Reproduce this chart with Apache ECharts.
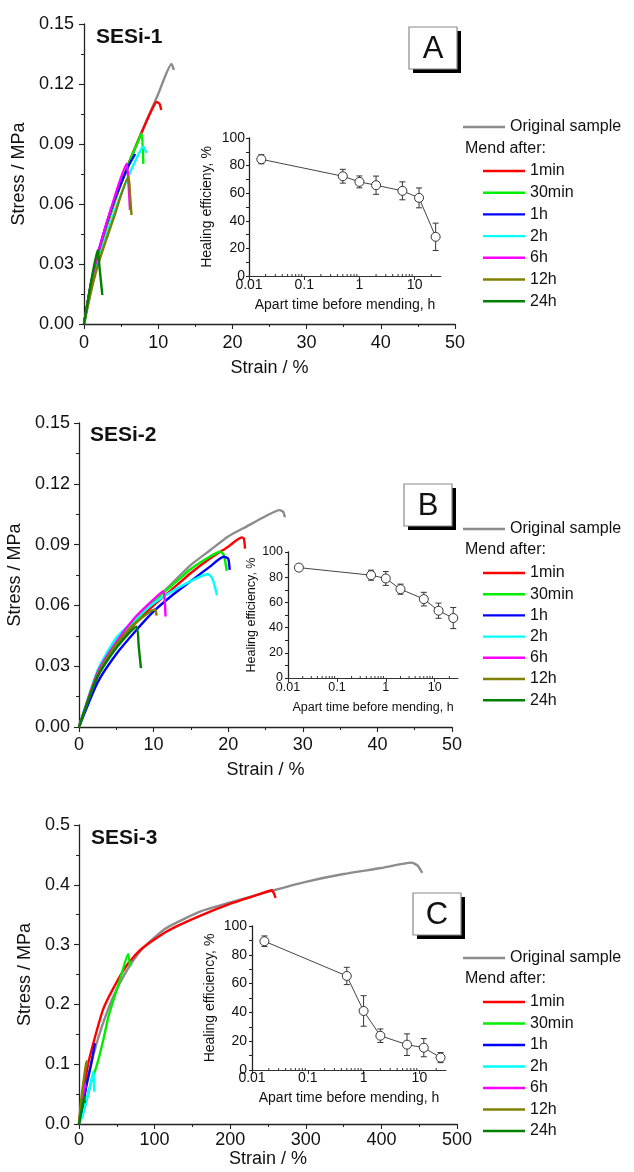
<!DOCTYPE html>
<html>
<head>
<meta charset="utf-8">
<script src="https://cdn.jsdelivr.net/npm/echarts@6/dist/echarts.min.js"></script>
<style>
  html, body { margin: 0; padding: 0; background: #fff; }
  #main { width: 634px; height: 1172px; }
</style>
</head>
<body>
<div id="main"></div>
<script>
// ---- panel A : SESi-1  [strain %, stress MPa]
const A_orig  = [[0,0],[1,0.021],[2,0.036],[4,0.060],[6,0.080],[8,0.098],[10,0.115],[11.8,0.130],[12.1,0.127]];
const A_1min  = [[0,0],[1,0.021],[2,0.036],[4,0.060],[6,0.080],[7.8,0.096],[9,0.106],[9.8,0.111],[10.2,0.110],[10.4,0.107]];
const A_30min = [[0,0],[1,0.021],[2,0.036],[4,0.060],[6,0.080],[7.6,0.094],[7.8,0.0953],[8.0,0.080]];
const A_1h    = [[0,0],[1,0.021],[2,0.037],[4,0.061],[6,0.079],[6.9,0.085]];
const A_2h    = [[0,0],[1,0.018],[2,0.032],[4,0.055],[6,0.074],[7.5,0.086],[8.0,0.0887],[8.4,0.0855]];
const A_6h    = [[0,0],[1,0.021],[2,0.037],[4,0.062],[5.75,0.080],[6.0,0.070],[6.2,0.057]];
const A_12h   = [[0,0],[1,0.017],[2,0.031],[4,0.053],[6.0,0.0737],[6.2,0.065],[6.4,0.0545]];
const A_24h   = [[0,0],[1,0.022],[1.85,0.037],[2.1,0.028],[2.47,0.0145]];

// ---- panel B : SESi-2
const B_orig  = [[0,0],[1,0.011],[2.5,0.025],[5,0.040],[7.5,0.052],[10,0.062],[12.5,0.071],[15,0.080],[17.5,0.087],[20,0.094],[22.5,0.099],[25,0.104],[26.9,0.107],[27.4,0.106],[27.6,0.1035]];
const B_1min  = [[0,0],[2.5,0.025],[5,0.040],[7.5,0.051],[10,0.060],[12.5,0.068],[15,0.076],[17.5,0.083],[20,0.089],[21.8,0.0935],[22.1,0.093],[22.25,0.088]];
const B_30min = [[0,0],[2.5,0.026],[5,0.041],[7.5,0.052],[10,0.062],[12.5,0.070],[15,0.078],[17.5,0.084],[18.9,0.0865],[19.4,0.085],[19.8,0.077]];
const B_1h    = [[0,0],[2.5,0.022],[5,0.036],[7.5,0.047],[10,0.057],[12.5,0.065],[15,0.072],[17.5,0.079],[19.4,0.084],[20.0,0.083],[20.2,0.0775]];
const B_2h    = [[0,0],[2.5,0.028],[5,0.044],[7.5,0.053],[10,0.061],[12.5,0.067],[15,0.072],[17.3,0.0755],[17.9,0.073],[18.5,0.065]];
const B_6h    = [[0,0],[2.5,0.027],[5,0.042],[7.5,0.054],[10,0.063],[11.3,0.067],[11.5,0.062],[11.6,0.0545]];
const B_12h   = [[0,0],[2.5,0.026],[5,0.041],[7.5,0.051],[10.2,0.058],[10.4,0.055]];
const B_24h   = [[0,0],[2.5,0.025],[5,0.039],[7.7,0.0495],[8.0,0.040],[8.3,0.029]];

// ---- panel C : SESi-3
const C_orig  = [[0,0],[10,0.068],[20,0.120],[30,0.162],[45,0.212],[63,0.256],[81,0.289],[100,0.312],[116,0.328],[160,0.355],[204,0.372],[255,0.390],[300,0.405],[350,0.418],[400,0.428],[440,0.437],[448,0.432],[454,0.420]];
const C_1min  = [[0,0],[5,0.045],[12,0.100],[20,0.140],[32,0.192],[45,0.226],[63,0.265],[81,0.291],[116,0.322],[160,0.348],[204,0.370],[240,0.385],[255,0.391],[258,0.385],[260,0.378]];
const C_30min = [[0,0],[8,0.030],[15,0.065],[24,0.100],[32,0.140],[39,0.180],[45,0.205],[55,0.245],[65,0.284],[67.5,0.263]];
const C_1h    = [[0,0],[5,0.030],[10,0.065],[16,0.100],[21,0.135]];
const C_2h    = [[0,0],[5,0.015],[10,0.040],[15,0.065],[18.9,0.0875],[19.5,0.075],[20.3,0.054]];
const C_6h    = [[0,0],[3,0.028],[6,0.052],[8,0.068],[8.5,0.060]];
const C_12h   = [[0,0],[2,0.030],[5,0.062],[8,0.090],[10,0.105],[10.5,0.098]];
const C_24h   = [[0,0],[3,0.020],[6,0.040],[7,0.045],[7.5,0.035]];

// ---- insets : healing efficiency vs apart time
const apartTime = [0.0167, 0.5, 1, 2, 6, 12, 24];
const effA = [84.6, 72.3, 68.2, 65.8, 61.7, 56.6, 28.4];
const errA = [3.3, 5, 4.3, 6.6, 6.5, 7.2, 9.9];
const effB = [87.6, 81.6, 79, 70.5, 62.6, 53.4, 47.6];
const errB = [2, 4, 5.5, 4, 5.4, 6, 8.4];
const effC = [89.4, 65.3, 41, 23.8, 17.6, 15.5, 8.6];
const errC = [3.7, 6, 10.6, 4.7, 7.5, 6.3, 3.5];
const logMinorTicks = [0.02,0.03,0.04,0.05,0.06,0.07,0.08,0.09,0.2,0.3,0.4,0.5,0.6,0.7,0.8,0.9,2,3,4,5,6,7,8,9,20];

const curveNames  = ['Original sample','1min','30min','1h','2h','6h','12h','24h'];
const curveColors = ['#8c8c8c','#ff0000','#00ee00','#0000ff','#00ffff','#ff00ff','#808000','#008000'];

const FONT = 'Liberation Sans, Arial, sans-serif';

var chart = echarts.init(document.getElementById('main'), null, { renderer: 'canvas' });

function grid(l, t, w, h) {
  return { left: l, top: t, width: w, height: h, containLabel: false, outerBoundsMode: 'none' };
}

function valueAxis(gi, min, max, interval, opts) {
  return {
    type: 'value', gridIndex: gi, min: min, max: max, interval: interval,
    name: opts.name, nameLocation: 'middle', nameGap: opts.nameGap,
    nameTextStyle: { fontSize: opts.nameSize, color: '#111', fontFamily: FONT },
    axisLine: { show: true, onZero: false, lineStyle: { color: '#222', width: 1.3 } },
    axisTick: { show: true, length: opts.tick || 5, lineStyle: { color: '#222', width: 1.1 } },
    minorTick: { show: true, splitNumber: 2, length: 3, lineStyle: { color: '#222', width: 1 } },
    splitLine: { show: false },
    axisLabel: {
      fontSize: opts.labelSize, color: '#111', fontFamily: FONT, margin: opts.margin,
      formatter: opts.fmt
    }
  };
}

function logAxis(gi, opts) {
  return {
    type: 'log', logBase: 10, gridIndex: gi, min: 0.01, max: 30,
    name: 'Apart time before mending, h', nameLocation: 'middle', nameGap: opts.nameGap,
    nameTextStyle: { fontSize: opts.nameSize, color: '#111', fontFamily: FONT },
    axisLine: { show: true, onZero: false, lineStyle: { color: '#333', width: 1 } },
    axisTick: { show: true, length: 4, lineStyle: { color: '#333', width: 1 } },
    splitLine: { show: false },
    axisLabel: {
      fontSize: opts.labelSize, color: '#111', fontFamily: FONT, margin: opts.margin,
      showMaxLabel: false,
      formatter: function (v) { return v > 20 ? '' : String(+(+v).toPrecision(2)); }
    }
  };
}

var xAxes = [
  valueAxis(0, 0, 50, 10,  { name: 'Strain / %', nameGap: 35, nameSize: 18, labelSize: 18, margin: 10 }),
  valueAxis(1, 0, 50, 10,  { name: 'Strain / %', nameGap: 34, nameSize: 18, labelSize: 18, margin: 9 }),
  valueAxis(2, 0, 500, 100,{ name: 'Strain / %', nameGap: 24, nameSize: 18, labelSize: 18, margin: 7 }),
  logAxis(3, { nameGap: 22, nameSize: 14, labelSize: 14, margin: 2 }),
  logAxis(4, { nameGap: 23, nameSize: 12.5, labelSize: 12.5, margin: 3 }),
  logAxis(5, { nameGap: 21, nameSize: 14, labelSize: 14, margin: 1 })
];

var fmt2 = function (v) { return v.toFixed(2); };
var fmt1 = function (v) { return v.toFixed(1); };
var fmt0 = function (v) { return String(v); };

var yAxes = [
  valueAxis(0, 0, 0.15, 0.03, { name: 'Stress / MPa', nameGap: 49, nameSize: 18, labelSize: 18, margin: 10, fmt: fmt2 }),
  valueAxis(1, 0, 0.15, 0.03, { name: 'Stress / MPa', nameGap: 53, nameSize: 18, labelSize: 18, margin: 9, fmt: fmt2 }),
  valueAxis(2, 0, 0.5, 0.1,   { name: 'Stress / MPa', nameGap: 40, nameSize: 18, labelSize: 18, margin: 9, fmt: fmt1 }),
  valueAxis(3, 0, 100, 20, { name: 'Healing efficieny, %', nameGap: 35, nameSize: 14, labelSize: 14, margin: 4, tick: 3, fmt: fmt0 }),
  valueAxis(4, 0, 100, 20, { name: 'Healing efficiency, %', nameGap: 29, nameSize: 12.5, labelSize: 12.5, margin: 5, tick: 3, fmt: fmt0 }),
  valueAxis(5, 0, 100, 20, { name: 'Healing efficiency, %', nameGap: 35, nameSize: 14, labelSize: 14, margin: 5, tick: 3, fmt: fmt0 })
];

var series = [];

// 应力-应变曲线
function addCurves(gi, list) {
  list.forEach(function (d, i) {
    series.push({
      type: 'line', name: curveNames[i], xAxisIndex: gi, yAxisIndex: gi,
      data: d, symbol: 'none', showSymbol: false, smooth: 0.2,
      lineStyle: { color: curveColors[i], width: 2.4 },
      itemStyle: { color: curveColors[i] },
      z: 2 + i, silent: true, animation: false
    });
  });
}
addCurves(0, [A_orig, A_1min, A_30min, A_1h, A_2h, A_6h, A_12h, A_24h]);
addCurves(1, [B_orig, B_1min, B_30min, B_1h, B_2h, B_6h, B_12h, B_24h]);
addCurves(2, [C_orig, C_1min, C_30min, C_1h, C_2h, C_6h, C_12h, C_24h]);

// inset: error bars + open circles
function addInset(gi, eff, err) {
  series.push({
    type: 'custom', xAxisIndex: gi, yAxisIndex: gi, silent: true, animation: false, z: 3,
    data: apartTime.map(function (t, i) { return [t, eff[i] - err[i], eff[i] + err[i]]; }),
    renderItem: function (params, api) {
      var lo = api.coord([api.value(0), api.value(1)]);
      var hi = api.coord([api.value(0), api.value(2)]);
      var st = { stroke: '#333', lineWidth: 1 };
      return { type: 'group', children: [
        { type: 'line', shape: { x1: lo[0], y1: lo[1], x2: hi[0], y2: hi[1] }, style: st },
        { type: 'line', shape: { x1: lo[0] - 3, y1: lo[1], x2: lo[0] + 3, y2: lo[1] }, style: st },
        { type: 'line', shape: { x1: hi[0] - 3, y1: hi[1], x2: hi[0] + 3, y2: hi[1] }, style: st }
      ] };
    }
  });
  series.push({
    type: 'line', xAxisIndex: gi, yAxisIndex: gi, silent: true, animation: false, z: 4,
    data: apartTime.map(function (t, i) { return [t, eff[i]]; }),
    symbol: 'circle', symbolSize: 9, showSymbol: true,
    lineStyle: { color: '#444', width: 1 },
    itemStyle: { color: '#fff', borderColor: '#333', borderWidth: 1 }
  });
  // log minor ticks
  series.push({
    type: 'custom', xAxisIndex: gi, yAxisIndex: gi, silent: true, animation: false, z: 3,
    data: logMinorTicks.map(function (v) { return [v, 0]; }),
    renderItem: function (params, api) {
      var p = api.coord([api.value(0), 0]);
      return { type: 'line', shape: { x1: p[0], y1: p[1], x2: p[0], y2: p[1] - 2 }, style: { stroke: '#333', lineWidth: 1 } };
    }
  });
}
addInset(3, effA, errA);
addInset(4, effB, errB);
addInset(5, effC, errC);

function legends(top1, top2, gap) {
  var common = {
    orient: 'vertical', itemWidth: 42, itemHeight: 14, padding: 0, selectedMode: false,
    icon: 'path://M0,0 L42,0 L42,2.4 L0,2.4 Z',
    textStyle: { fontSize: 16, color: '#111', fontFamily: FONT }
  };
  return [
    Object.assign({}, common, { data: ['Original sample'], left: 463, top: top1 }),
    Object.assign({}, common, { data: curveNames.slice(1), left: 483, top: top2, itemGap: gap })
  ];
}

function box(letter, x, y) {
  return { type: 'group', x: x, y: y, children: [
    { type: 'rect', shape: { x: 4, y: 4, width: 48, height: 42 }, style: { fill: '#000' } },
    { type: 'rect', shape: { x: 0, y: 0, width: 48, height: 42 }, style: { fill: '#fff', stroke: '#8a8a8a', lineWidth: 1.2 } },
    { type: 'text', style: { text: letter, x: 24, y: 22, align: 'center', verticalAlign: 'middle', font: '31px ' + FONT, fill: '#111' } }
  ] };
}

function label(text, x, y, font) {
  return { type: 'text', style: { text: text, x: x, y: y, verticalAlign: 'middle', font: font, fill: '#111' } };
}

var option = {
  backgroundColor: '#fff',
  animation: false,
  grid: [
    grid(84, 24, 371, 300),
    grid(79, 423, 373, 304),
    grid(79, 825, 378, 299),
    grid(249, 138, 192, 138),
    grid(288, 552, 170, 126),
    grid(252, 926, 194, 144)
  ],
  xAxis: xAxes,
  yAxis: yAxes,
  legend: [].concat(legends(119, 163, 5.7), legends(521, 565, 5.2), legends(950, 994, 5.5)),
  graphic: [
    box('A', 409, 27), box('B', 404, 484), box('C', 413, 893),
    label('SESi-1', 96, 37, 'bold 21px ' + FONT),
    label('SESi-2', 90, 435, 'bold 21px ' + FONT),
    label('SESi-3', 91, 838, 'bold 21px ' + FONT),
    label('Mend after:', 465, 149, '16px ' + FONT),
    label('Mend after:', 465, 550, '16px ' + FONT),
    label('Mend after:', 465, 979, '16px ' + FONT)
  ],
  series: series
};

chart.setOption(option);
</script>
</body>
</html>
